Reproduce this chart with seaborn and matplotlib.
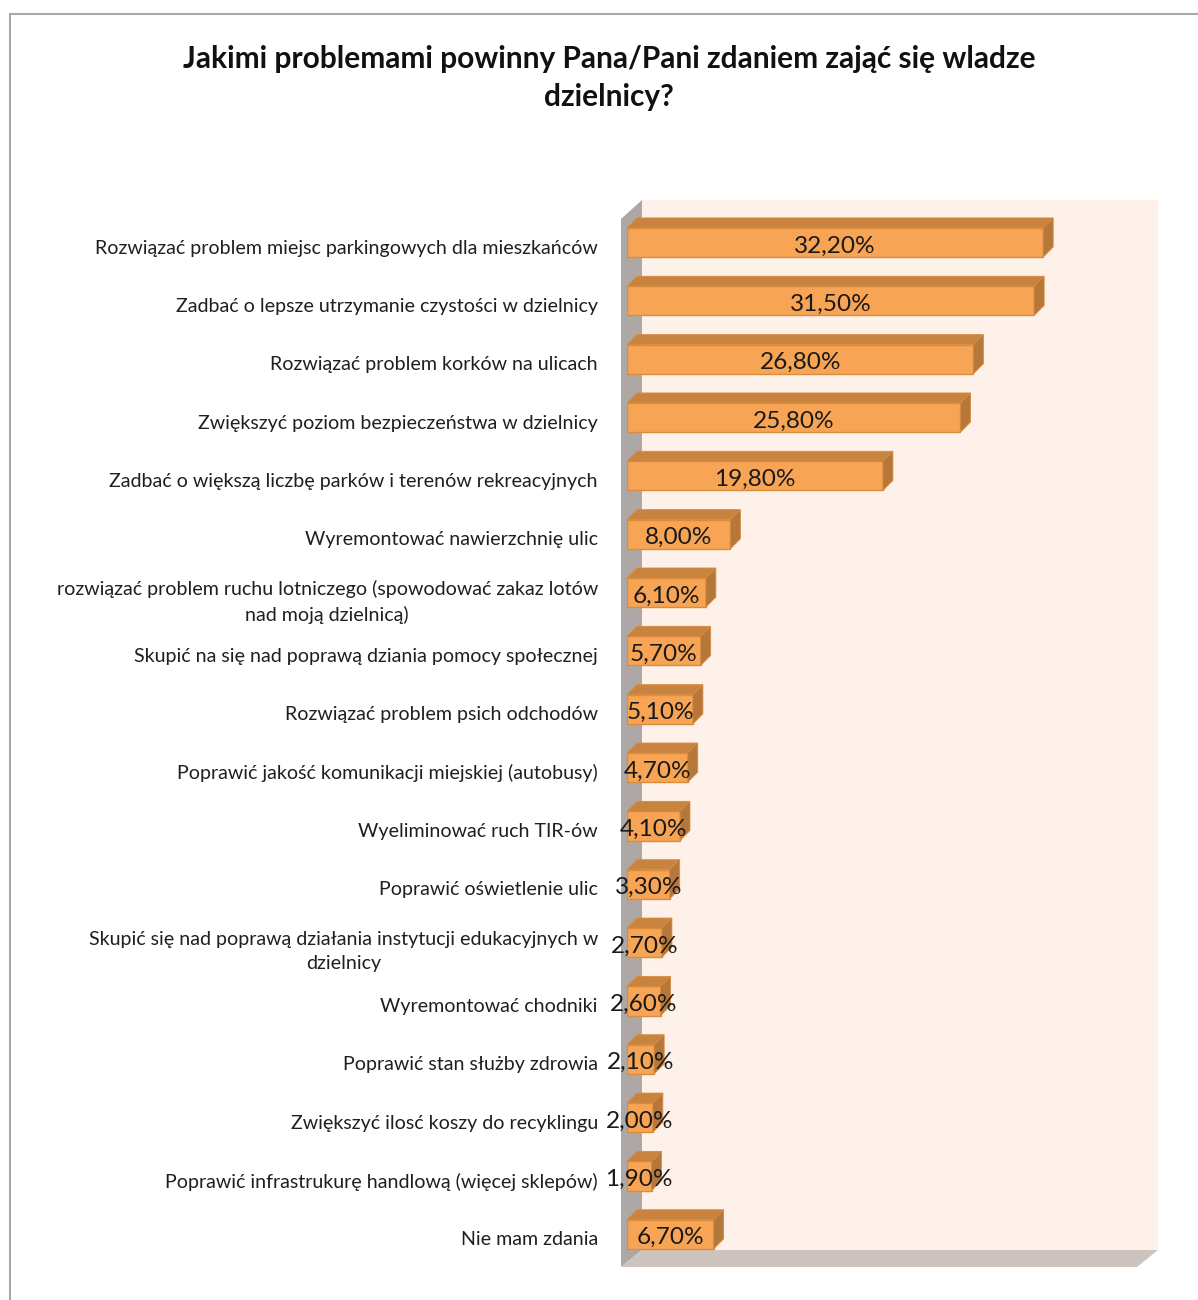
import matplotlib
matplotlib.use("Agg")
import matplotlib.pyplot as plt
from matplotlib.lines import Line2D
from matplotlib.patches import Polygon
from matplotlib.transforms import IdentityTransform, ScaledTranslation
import pandas as pd
import seaborn as sns

# data
categories = [
    "Rozwiązać problem miejsc parkingowych dla mieszkańców",
    "Zadbać o lepsze utrzymanie czystości w dzielnicy",
    "Rozwiązać problem korków na ulicach",
    "Zwiększyć poziom bezpieczeństwa w dzielnicy",
    "Zadbać o większą liczbę parków i terenów rekreacyjnych",
    "Wyremontować nawierzchnię ulic",
    "rozwiązać problem ruchu lotniczego (spowodować zakaz lotów\nnad moją dzielnicą)",
    "Skupić na się nad poprawą dziania pomocy społecznej",
    "Rozwiązać problem psich odchodów",
    "Poprawić jakość komunikacji miejskiej (autobusy)",
    "Wyeliminować ruch TIR-ów",
    "Poprawić oświetlenie ulic",
    "Skupić się nad poprawą działania instytucji edukacyjnych w\ndzielnicy",
    "Wyremontować chodniki",
    "Poprawić stan służby zdrowia",
    "Zwiększyć ilosć koszy do recyklingu",
    "Poprawić infrastrukurę handlową (więcej sklepów)",
    "Nie mam zdania",
]
values = [32.2, 31.5, 26.8, 25.8, 19.8, 8.0, 6.1, 5.7, 5.1, 4.7,
          4.1, 3.3, 2.7, 2.6, 2.1, 2.0, 1.9, 6.7]
value_labels = [f"{v:.2f}%".replace(".", ",") for v in values]

title = "Jakimi problemami powinny Pana/Pani zdaniem zająć się wladze\ndzielnicy?"

FACE = "#F7A555"
EDGE = "#D98B3E"
TOP = "#C8843F"
SIDE = "#B6783A"
WALL_BACK = "#FEF1EA"
WALL_LEFT = "#ADA8A6"
FLOOR = "#CDC4C0"

W, H = 1198, 1300


def fx(px):
    return px / W


def fy(py):
    return 1 - py / H


sns.set_theme(style="white")
plt.rcParams["font.family"] = ["Lato", "DejaVu Sans"]

df = pd.DataFrame({"category": categories, "value": values})

fig = plt.figure(figsize=(W / 100, H / 100), dpi=100)

# 3D-style walls behind the plot
wall_kw = dict(transform=fig.transFigure, zorder=-5, linewidth=0)
fig.add_artist(Polygon([(fx(642), fy(200)), (fx(1158), fy(200)),
                        (fx(1158), fy(1250)), (fx(642), fy(1250))],
                       facecolor=WALL_BACK, **wall_kw))
fig.add_artist(Polygon([(fx(621), fy(219)), (fx(642), fy(200)),
                        (fx(642), fy(1250)), (fx(621), fy(1267))],
                       facecolor=WALL_LEFT, **wall_kw))
fig.add_artist(Polygon([(fx(621), fy(1267)), (fx(642), fy(1250)),
                        (fx(1158), fy(1250)), (fx(1137), fy(1267))],
                       facecolor=FLOOR, **wall_kw))

# frame lines of the original chart area
fig.add_artist(Line2D([fx(10), fx(10)], [fy(14), fy(1300)],
                      transform=fig.transFigure, color="#A8A8A8", lw=1.5))
fig.add_artist(Line2D([fx(10), fx(1198)], [fy(14), fy(14)],
                      transform=fig.transFigure, color="#A8A8A8", lw=1.5))

ax = fig.add_axes([fx(627), fy(1267), fx(1144) - fx(627), fy(218) - fy(1267)])
ax.patch.set_alpha(0)

sns.barplot(data=df, x="value", y="category", orient="h", color=FACE,
            saturation=1, width=0.5, edgecolor=EDGE, linewidth=1, ax=ax)
ax.set_xlim(0, 40)
ax.set_ylim(17.56, -0.42)

# add top and side faces to each bar
depth = 10
bars = list(ax.containers[0])
for bar in bars:
    x0, y0 = bar.get_x(), bar.get_y()
    x1, y1 = x0 + bar.get_width(), y0 + bar.get_height()
    (X0, Ya), (X1, Yb) = ax.transData.transform([(x0, y0), (x1, y1)])
    ytop, ybot = max(Ya, Yb), min(Ya, Yb)
    top = Polygon([(X0, ytop), (X1, ytop), (X1 + depth, ytop + depth),
                   (X0 + depth, ytop + depth)], closed=True,
                  transform=IdentityTransform(), facecolor=TOP,
                  edgecolor=EDGE, linewidth=0.6, clip_on=False, zorder=2)
    side = Polygon([(X1, ybot), (X1 + depth, ybot + depth),
                    (X1 + depth, ytop + depth), (X1, ytop)], closed=True,
                   transform=IdentityTransform(), facecolor=SIDE,
                   edgecolor=EDGE, linewidth=0.6, clip_on=False, zorder=2)
    ax.add_artist(top)
    ax.add_artist(side)

texts = ax.bar_label(ax.containers[0], labels=value_labels, label_type="center",
                     fontsize=17.6, color="#1a1a1a")
for t in texts:
    t.set_zorder(6)
    t.xyann = (0, -2.5)

ax.set_xticks([])
ax.set_xlabel("")
ax.set_ylabel("")
ax.tick_params(axis="y", length=0, pad=21, labelsize=14.1, labelcolor="#1f1f1f")
shift = ScaledTranslation(0, -4 / 100, fig.dpi_scale_trans)
for tick in ax.yaxis.get_major_ticks():
    lab = tick.label1
    lab.set_multialignment("center")
    lab.set_linespacing(1.5)
    lab.set_transform(lab.get_transform() + shift)
sns.despine(ax=ax, left=True, bottom=True)

fig.text(fx(609), fy(45), title, ha="center", va="top", fontsize=21.5,
         fontweight="bold", color="#111111", linespacing=1.45)

fig.savefig("out.png", dpi=100)
